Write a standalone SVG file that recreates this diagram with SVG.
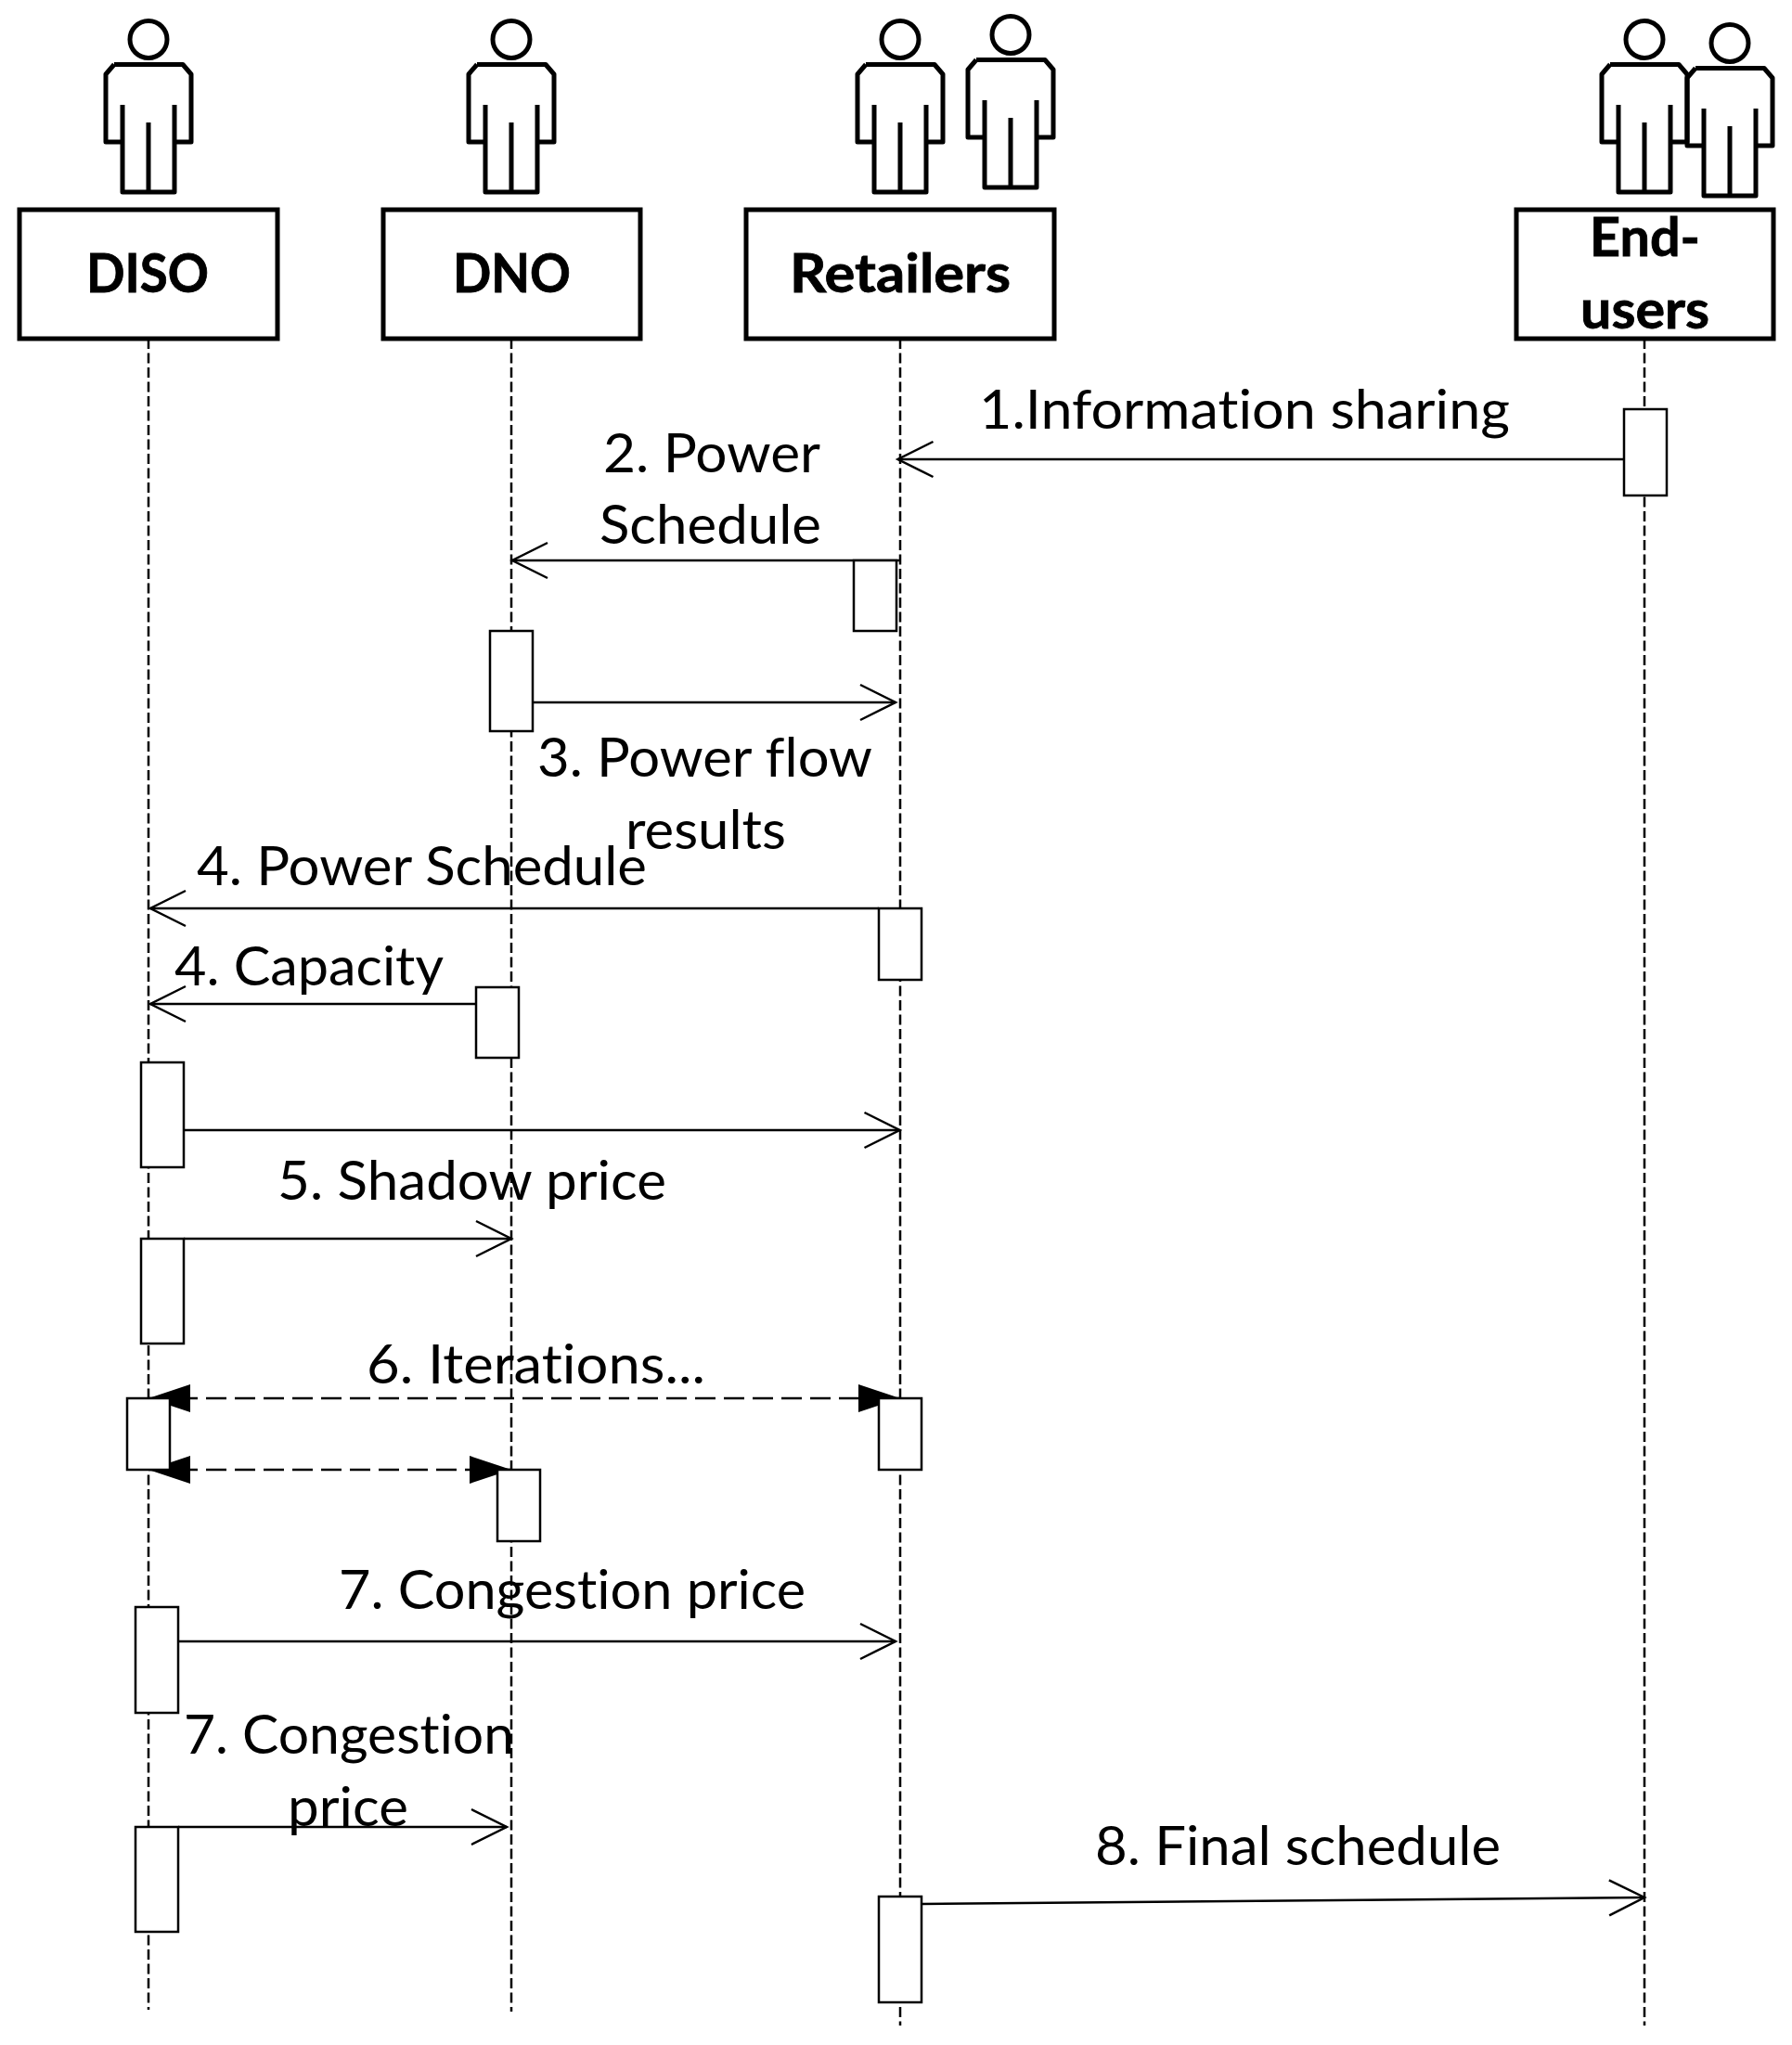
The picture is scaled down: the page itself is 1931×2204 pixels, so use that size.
<svg xmlns="http://www.w3.org/2000/svg" width="1931" height="2204" viewBox="0 0 1931 2204">
<style>
.bg{fill:#fff}
.box{fill:#fff;stroke:#000;stroke-width:5}
.act{fill:#fff;stroke:#000;stroke-width:2.5}
.life{fill:none;stroke:#000;stroke-width:2.5;stroke-dasharray:11 4.5}
.msg{fill:none;stroke:#000;stroke-width:2.5}
.open{marker-end:url(#open)}
.dash{stroke-dasharray:22 9;marker-start:url(#solid);marker-end:url(#solid)}
.p{fill:none;stroke:#000;stroke-width:5;stroke-linejoin:round}
text{font-family:"Lato","Open Sans",sans-serif;fill:#000;font-variant-ligatures:none}
.l{font-size:58px}
.t{font-size:58px;font-weight:700;stroke:#000;stroke-width:.8}
</style>
<defs>
<marker id="open" markerUnits="userSpaceOnUse" markerWidth="44" markerHeight="44" refX="40" refY="22" orient="auto" overflow="visible">
<path d="M2 3 L40 22 L2 41" fill="none" stroke="#000" stroke-width="2.5"/>
</marker>
<marker id="solid" markerUnits="userSpaceOnUse" markerWidth="46" markerHeight="32" refX="45" refY="16" orient="auto-start-reverse" overflow="visible">
<path d="M0 1 L45 16 L0 31 Z" fill="#000"/>
</marker>
<g id="person">
<circle cx="0" cy="42.5" r="20" class="p"/>
<path d="M-37 69.5 L37 69.5 L46 80 L46 153 L28 153 M-28 153 L-46 153 L-46 80 L-37 69.5 M-28 113 L-28 207 L28 207 L28 113 M0 132 L0 207" class="p"/>
</g>
</defs>
<rect class="bg" width="1931" height="2204"/>
<g id="lifelines">
<path class="life" d="M160 365V2166"/>
<path class="life" d="M551 365V2168"/>
<path class="life" d="M970 365V2183"/>
<path class="life" d="M1772 365V2183"/>
</g>
<g id="connectors">
<path class="msg open" d="M1749 495H967.5"/>
<path class="msg open" d="M970 604H552"/>
<path class="msg open" d="M575 757H965"/>
<path class="msg open" d="M947 979H162"/>
<path class="msg open" d="M513 1082H162"/>
<path class="msg open" d="M198 1218H969.5"/>
<path class="msg open" d="M198 1335H551"/>
<path class="msg dash" d="M160 1507H970"/>
<path class="msg dash" d="M160 1584H551"/>
<path class="msg open" d="M192 1769H965"/>
<path class="msg open" d="M192 1969H546"/>
<path class="msg open" d="M993 2052L1772 2045"/>
</g>
<g id="node-diso">
<use href="#person" x="160" y="0"/>
<rect class="box" x="21" y="226" width="278" height="139"/>
<text class="t" x="93" y="315" textLength="132" lengthAdjust="spacingAndGlyphs">DISO</text>
</g>
<g id="node-dno">
<use href="#person" x="551" y="0"/>
<rect class="box" x="413" y="226" width="277" height="139"/>
<text class="t" x="488" y="315" textLength="127" lengthAdjust="spacingAndGlyphs">DNO</text>
</g>
<g id="node-retailers">
<use href="#person" x="970" y="0"/>
<use href="#person" x="1089" y="-5"/>
<rect class="box" x="804" y="226" width="332" height="139"/>
<text class="t" x="851" y="315" textLength="238" lengthAdjust="spacingAndGlyphs">Retailers</text>
</g>
<g id="node-end-users">
<use href="#person" x="1772" y="0"/>
<use href="#person" x="1864" y="4"/>
<rect class="box" x="1634" y="226" width="277" height="139"/>
<text class="t" x="1713" y="276" textLength="119" lengthAdjust="spacingAndGlyphs">End-</text>
<text class="t" x="1703" y="354" textLength="139" lengthAdjust="spacingAndGlyphs">users</text>
</g>
<g id="activations">
<rect class="act" x="1750" y="441" width="46" height="93"/>
<rect class="act" x="920" y="604" width="46" height="76"/>
<rect class="act" x="528" y="680" width="46" height="108"/>
<rect class="act" x="947" y="979" width="46" height="77"/>
<rect class="act" x="513" y="1064" width="46" height="76"/>
<rect class="act" x="152" y="1145" width="46" height="113"/>
<rect class="act" x="152" y="1335" width="46" height="113"/>
<rect class="act" x="137" y="1507" width="46" height="77"/>
<rect class="act" x="947" y="1507" width="46" height="77"/>
<rect class="act" x="536" y="1584" width="46" height="77"/>
<rect class="act" x="146" y="1732" width="46" height="114"/>
<rect class="act" x="146" y="1969" width="46" height="113"/>
<rect class="act" x="947" y="2044" width="46" height="114"/>
</g>
<g id="labels">
<text class="l" x="1055" y="462" textLength="572" lengthAdjust="spacingAndGlyphs">1.Information sharing</text>
<text class="l" x="650" y="509" textLength="234" lengthAdjust="spacingAndGlyphs">2. Power</text>
<text class="l" x="646" y="586" textLength="239" lengthAdjust="spacingAndGlyphs">Schedule</text>
<text class="l" x="579" y="837" textLength="361" lengthAdjust="spacingAndGlyphs">3. Power flow</text>
<text class="l" x="674" y="915" textLength="173" lengthAdjust="spacingAndGlyphs">results</text>
<text class="l" x="212" y="954" textLength="485" lengthAdjust="spacingAndGlyphs">4. Power Schedule</text>
<text class="l" x="188" y="1062" textLength="290" lengthAdjust="spacingAndGlyphs">4. Capacity</text>
<text class="l" x="299" y="1293" textLength="419" lengthAdjust="spacingAndGlyphs">5. Shadow price</text>
<text class="l" x="395" y="1491" textLength="365" lengthAdjust="spacingAndGlyphs">6. Iterations...</text>
<text class="l" x="365" y="1734" textLength="503" lengthAdjust="spacingAndGlyphs">7. Congestion price</text>
<text class="l" x="198" y="1890" textLength="356" lengthAdjust="spacingAndGlyphs">7. Congestion</text>
<text class="l" x="310" y="1968" textLength="130" lengthAdjust="spacingAndGlyphs">price</text>
<text class="l" x="1180" y="2010" textLength="437" lengthAdjust="spacingAndGlyphs">8. Final schedule</text>
</g>
</svg>
